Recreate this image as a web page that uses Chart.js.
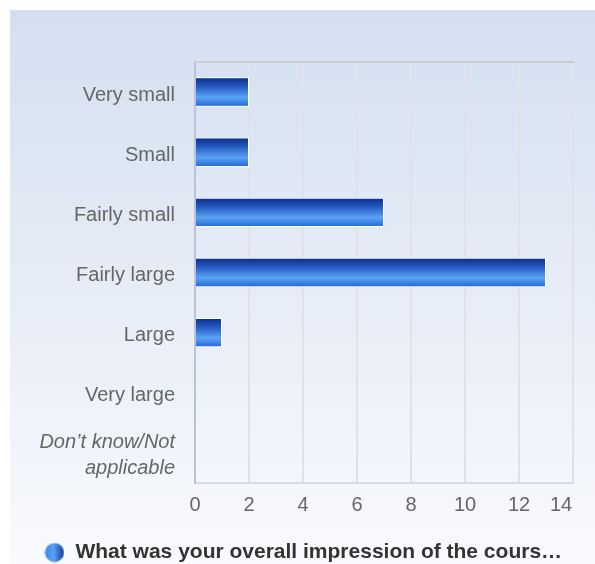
<!DOCTYPE html>
<html>
<head>
<meta charset="utf-8">
<script src="https://cdn.jsdelivr.net/npm/chart.js@4.4.1/dist/chart.umd.min.js"></script>
<style>
  html, body { margin: 0; padding: 0; background: #fff; }
  #wrap { position: relative; width: 595px; height: 564px; }
  canvas { position: absolute; left: 0; top: 0; }
</style>
</head>
<body>
<div id="wrap"><canvas id="chart" width="595" height="564"></canvas></div>
<script>
// Data
const categories = [
    'Very small',
    'Small',
    'Fairly small',
    'Fairly large',
    'Large',
    'Very large',
    ['Don\u2019t know/Not', 'applicable']
];
const responses = [2, 2, 7, 13, 1, 0, 0];
const seriesName = 'What was your overall impression of the cours\u2026';
const xMin = 0;
const xMax = 14;
const xStep = 2;

const FONT = '"Liberation Sans", Arial, sans-serif';

// Panel background, top frame line, per-bar gradient
const panelPlugin = {
    id: 'panel',
    afterLayout(chart) {
        // nudge the legend a bit lower and right, as in the original
        const lg = chart.legend;
        lg.top += 9; lg.bottom += 9;
        lg.left += 8; lg.right += 8;
    },
    beforeDraw(chart) {
        const ctx = chart.ctx;
        const g = ctx.createLinearGradient(0, 10, 0, 564);
        g.addColorStop(0, '#d3dff0');
        g.addColorStop(1, '#f9fafd');
        ctx.save();
        ctx.fillStyle = g;
        ctx.fillRect(10, 10, 585, 554);
        ctx.restore();

        // keep the last x label inside the plot, like the original
        const items = chart.scales.x.getLabelItems();
        const last = items[items.length - 1];
        if (last && !last._moved) {
            last.options.translation[0] -= 12;
            last._moved = true;
        }
    },
    beforeDatasetsDraw(chart) {
        const ctx = chart.ctx;
        const a = chart.chartArea;
        ctx.save();
        ctx.strokeStyle = '#c9ccd2';
        ctx.lineWidth = 2;
        ctx.beginPath();
        ctx.moveTo(a.left, a.top);
        ctx.lineTo(a.right + 1, a.top);
        ctx.stroke();
        ctx.restore();

        const meta = chart.getDatasetMeta(0);
        meta.data.forEach(bar => {
            const top = bar.y - bar.height / 2;
            const bottom = bar.y + bar.height / 2;
            const g = ctx.createLinearGradient(0, top, 0, bottom);
            g.addColorStop(0, '#0a2d86');
            g.addColorStop(0.3, '#2457c0');
            g.addColorStop(0.68, '#5aa3f5');
            g.addColorStop(1, '#1f66d4');
            bar.options.backgroundColor = g;
        });
    }
};

// Legend marker: small gradient circle
const dot = document.createElement('canvas');
dot.width = 20;
dot.height = 20;
(function () {
    const c = dot.getContext('2d');
    const g = c.createLinearGradient(0, 0, 20, 0);
    g.addColorStop(0, '#3d86ee');
    g.addColorStop(0.45, '#5aa0f5');
    g.addColorStop(1, '#0d3a9c');
    c.fillStyle = g;
    c.beginPath();
    c.arc(10, 10, 9.5, 0, Math.PI * 2);
    c.fill();
})();

new Chart(document.getElementById('chart'), {
    type: 'bar',
    data: {
        labels: categories,
        datasets: [{
            label: seriesName,
            data: responses,
            // scriptable so every bar gets its own options object
            backgroundColor: () => '#2a6ad8',
            borderColor: '#ffffff',
            borderWidth: { top: 1, right: 1, bottom: 1, left: 0 },
            borderSkipped: false,
            categoryPercentage: 0.94,
            barPercentage: 0.52,
            pointStyle: dot
        }]
    },
    plugins: [panelPlugin],
    options: {
        indexAxis: 'y',
        responsive: false,
        animation: false,
        layout: { padding: { top: 62, right: 22, left: 17, bottom: 0 } },
        scales: {
            x: {
                min: xMin,
                max: xMax,
                ticks: {
                    stepSize: xStep,
                    color: '#666',
                    font: { family: FONT, size: 20 },
                    padding: 10
                },
                grid: { color: '#dfe2e8', lineWidth: 2, drawTicks: false },
                border: { color: '#d4dbe6', width: 2 },
                afterFit(scale) { scale.height = 50; }
            },
            y: {
                ticks: {
                    color: '#666',
                    padding: 12,
                    labelOffset: 3,
                    font: (c) => ({
                        family: FONT,
                        size: 20,
                        style: c.index === categories.length - 1 ? 'italic' : 'normal',
                        lineHeight: 1.3
                    })
                },
                grid: { display: false },
                border: { color: '#b9c4d6', width: 2 },
                afterFit(scale) { scale.width = 178; }
            }
        },
        plugins: {
            legend: {
                position: 'bottom',
                labels: {
                    usePointStyle: true,
                    color: '#333',
                    font: { family: FONT, size: 21, weight: 'bold' },
                    padding: 0
                }
            },
            tooltip: { enabled: false }
        }
    }
});
</script>
</body>
</html>
